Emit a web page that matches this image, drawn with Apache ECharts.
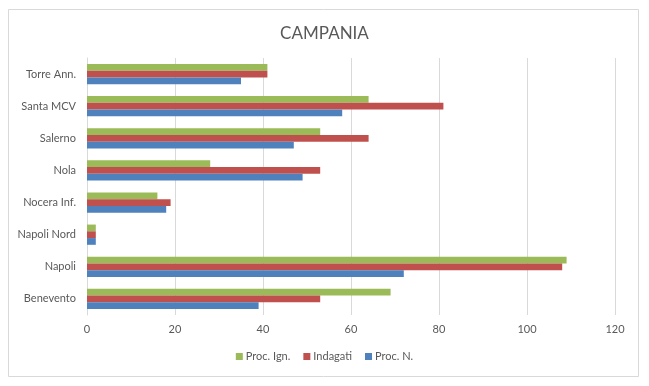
<!DOCTYPE html>
<html><head><meta charset="utf-8">
<script src="https://cdn.jsdelivr.net/npm/echarts@6/dist/echarts.min.js"></script>
<style>html,body{margin:0;padding:0;background:#fff}#c{width:649px;height:386px}</style>
</head><body><div id="c"></div>
<script>
const categories = ['Benevento','Napoli','Napoli Nord','Nocera Inf.','Nola','Salerno','Santa MCV','Torre Ann.'];
const procN = [39, 72, 2, 18, 49, 47, 58, 35];
const indagati = [53, 108, 2, 19, 53, 64, 81, 41];
const procIgn = [69, 109, 2, 16, 28, 53, 64, 41];
const xTicks = [0, 20, 40, 60, 80, 100, 120];

const font = 'Lato, "Open Sans", sans-serif';
const txt = '#595959';
const chart = echarts.init(document.getElementById('c'), null, {renderer:'canvas'});
chart.setOption({
  animation: false,
  backgroundColor: '#fff',
  graphic: [{type:'rect', shape:{x:8.5,y:9.5,width:630,height:367}, style:{fill:'none', stroke:'#d9d9d9', lineWidth:1}, silent:true}],
  title: {text:'CAMPANIA', left:'center', top:20, textStyle:{fontFamily:font, fontSize:17, fontWeight:'normal', color:txt}},
  legend: {
    data:['Proc. Ign.','Indagati','Proc. N.'], bottom:19, left:'center',
    itemWidth:7, itemHeight:7, itemGap:13, icon:'rect',
    textStyle:{fontFamily:font, fontSize:11, color:txt, padding:[0,0,0,-2]}
  },
  grid: {left:87, right:34, top:58, bottom:71, containLabel:false},
  xAxis: {
    type:'value', min:xTicks[0], max:xTicks[xTicks.length-1], interval:20,
    axisLine:{show:false}, axisTick:{show:false},
    splitLine:{lineStyle:{color:'#d9d9d9'}},
    axisLabel:{fontFamily:font, fontSize:11, color:txt, margin:9}
  },
  yAxis: {
    type:'category', data:categories,
    axisLine:{show:true, lineStyle:{color:'#d9d9d9'}}, axisTick:{show:false},
    axisLabel:{fontFamily:font, fontSize:11, color:txt, margin:11}
  },
  series: [
    {name:'Proc. Ign.', type:'bar', data:procIgn, itemStyle:{color:'#9bbb59'}, barGap:'0%', barCategoryGap:'37%'},
    {name:'Indagati', type:'bar', data:indagati, itemStyle:{color:'#c0504d'}, barGap:'0%', barCategoryGap:'37%'},
    {name:'Proc. N.', type:'bar', data:procN, itemStyle:{color:'#4f81bd'}, barGap:'0%', barCategoryGap:'37%'}
  ]
});
</script></body></html>
